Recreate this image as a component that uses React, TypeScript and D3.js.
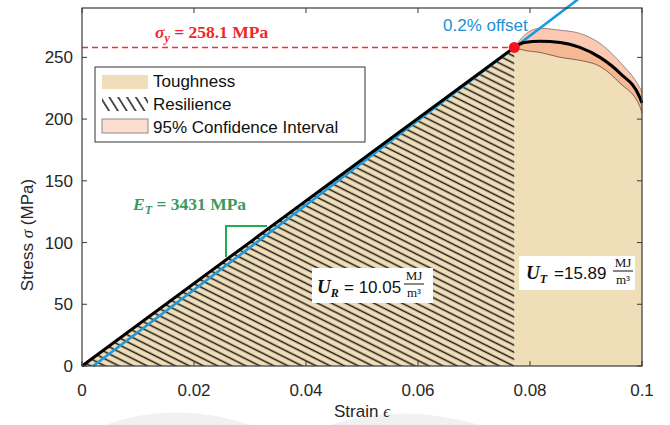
import React from 'react';
import * as d3 from 'd3';

// yield point and modulus
const yieldStrain = 0.0772;
const yieldStress = 258.1;
const modulusT = 3431;
const offsetStrain = 0.002;

// post-yield mean curve and 95% band (strain, stress)
const postStrain = [0.0772, 0.079, 0.0818, 0.0854, 0.0889, 0.0925, 0.0961, 0.0996, 0.1];
const meanStress = [258.1, 262, 263, 262.1, 258.1, 250, 237, 217.6, 213];
const upperStress = [258.1, 268, 273.5, 272, 269.4, 261.3, 246, 225.5, 222];
const lowerStress = [258.1, 255.7, 254, 250, 247.6, 242.7, 229, 210.4, 204.7];

const xTicks = [0, 0.02, 0.04, 0.06, 0.08, 0.1];
const yTicks = [0, 50, 100, 150, 200, 250];

const W = 670;
const H = 425;
const sans = 'Liberation Sans, Arial, Helvetica, sans-serif';
const serif = 'Liberation Serif, Times New Roman, serif';

const App = () => {
  const x = d3.scaleLinear().domain([0, 0.1]).range([82, 642]);
  const y = d3.scaleLinear().domain([0, 290]).range([366, 8]);

  const mean = postStrain.map((s, i) => [s, meanStress[i]] as [number, number]);

  const line = d3.line<[number, number]>().x(d => x(d[0])).y(d => y(d[1])).curve(d3.curveMonotoneX);
  const lineStraight = d3.line<[number, number]>().x(d => x(d[0])).y(d => y(d[1]));

  // toughness = elastic triangle + area under the post-yield curve
  const postArea = d3.area<[number, number]>()
    .x(d => x(d[0])).y0(y(0)).y1(d => y(d[1])).curve(d3.curveMonotoneX)(mean);

  const band = d3.area<number>()
    .x(i => x(postStrain[i])).y0(i => y(lowerStress[i])).y1(i => y(upperStress[i]))
    .curve(d3.curveMonotoneX)(postStrain.map((_, i) => i));

  const upperLine = line(postStrain.map((s, i) => [s, upperStress[i]]));
  const lowerLine = line(postStrain.map((s, i) => [s, lowerStress[i]]));

  const triangle = lineStraight([[0, 0], [yieldStrain, yieldStress], [yieldStrain, 0], [0, 0]]);

  const blueTop = 298;
  const blue = lineStraight([[offsetStrain, 0], [offsetStrain + blueTop / modulusT, blueTop]]);

  const x0 = x(0), x1 = x(0.1), yb = y(0), yt = y(290);

  return (
    <svg width={W} height={H} style={{ position: 'absolute', left: 0, top: 0, background: '#fff' }}>
      <defs>
        <pattern id="hatch" patternUnits="userSpaceOnUse" width="10" height="6.3" patternTransform="rotate(26.57)">
          <line x1="0" y1="3.15" x2="10" y2="3.15" stroke="#1a1a1a" strokeWidth="1.5" />
        </pattern>
        <pattern id="hatchLeg" patternUnits="userSpaceOnUse" width="10" height="7.5" patternTransform="rotate(58)">
          <line x1="0" y1="3.75" x2="10" y2="3.75" stroke="#1a1a1a" strokeWidth="1.5" />
        </pattern>
      </defs>

      {/* faint watermark shapes */}
      <path d="M105,425 Q175,400 250,425 Z" fill="#f1f1f1" />
      <path d="M330,425 Q400,402 480,425 Z" fill="#f1f1f1" />

      {/* toughness fill */}
      <path d={triangle ?? ''} fill="#F0DEB9" />
      <path d={postArea ?? ''} fill="#F0DEB9" />
      {/* resilience hatch */}
      <path d={triangle ?? ''} fill="url(#hatch)" />

      {/* confidence band */}
      <path d={band ?? ''} fill="#F79A72" fillOpacity={0.55} />
      <path d={upperLine ?? ''} fill="none" stroke="#8a6f66" strokeWidth={0.8} />
      <path d={lowerLine ?? ''} fill="none" stroke="#6b4a3a" strokeWidth={0.8} />

      {/* 0.2% offset line */}
      <path d={blue ?? ''} stroke="#1C9BE0" strokeWidth={2.6} fill="none" />

      {/* stress-strain curve */}
      <path d={lineStraight([[0, 0], [yieldStrain, yieldStress]]) ?? ''} stroke="#000" strokeWidth={3} fill="none" />
      <path d={line(mean) ?? ''} stroke="#000" strokeWidth={3} fill="none" />

      {/* yield line and point */}
      <line x1={x0} x2={x(yieldStrain)} y1={y(yieldStress)} y2={y(yieldStress)}
        stroke="#FF2A2A" strokeWidth={1.5} strokeDasharray="6,4" />
      <circle cx={x(yieldStrain)} cy={y(yieldStress)} r={5.5} fill="#F5141E" />

      {/* axes box */}
      <rect x={x0} y={yt} width={x1 - x0} height={yb - yt} fill="none" stroke="#3a3a3a" strokeWidth={1.2} />
      {xTicks.map(t => (
        <g key={'x' + t}>
          <line x1={x(t)} x2={x(t)} y1={yb} y2={yb - 5} stroke="#3a3a3a" />
          <line x1={x(t)} x2={x(t)} y1={yt} y2={yt + 5} stroke="#3a3a3a" />
          <text x={x(t)} y={396} textAnchor="middle" fontFamily={sans} fontSize={17} fill="#262626">{t}</text>
        </g>
      ))}
      {yTicks.map(t => (
        <g key={'y' + t}>
          <line x1={x0} x2={x0 + 5} y1={y(t)} y2={y(t)} stroke="#3a3a3a" />
          <line x1={x1} x2={x1 - 5} y1={y(t)} y2={y(t)} stroke="#3a3a3a" />
          <text x={73} y={y(t)} dy="0.36em" textAnchor="end" fontFamily={sans} fontSize={17} fill="#262626">{t}</text>
        </g>
      ))}
      <text x={362} y={417} textAnchor="middle" fontFamily={sans} fontSize={17} fill="#262626">
        Strain <tspan fontFamily={serif} fontStyle="italic">ϵ</tspan>
      </text>
      <text transform="translate(33,235) rotate(-90)" textAnchor="middle" fontFamily={sans} fontSize={17} fill="#262626">
        Stress <tspan fontFamily={serif} fontStyle="italic">σ</tspan> (MPa)
      </text>

      {/* annotations */}
      <text x={155} y={38} fontFamily={serif} fontSize={17.5} fontWeight="bold" fill="#F0262A">
        <tspan fontStyle="italic">σ</tspan><tspan fontStyle="italic" fontSize={12} dy={4}>y</tspan>
        <tspan dy={-4}> = 258.1 MPa</tspan>
      </text>
      <text x={443} y={31} fontFamily={sans} fontSize={17} fill="#1C8FD6">0.2% offset</text>

      <text x={133} y={210} fontFamily={serif} fontSize={17.5} fontWeight="bold" fill="#3A9A5C">
        <tspan fontStyle="italic">E</tspan><tspan fontStyle="italic" fontSize={12} dy={4}>T</tspan>
        <tspan dy={-4}> = 3431 MPa</tspan>
      </text>
      <path d="M226,257 V226 H267" fill="none" stroke="#22B04A" strokeWidth={2} />

      {/* U_R box */}
      <rect x={312} y={268} width={121} height={35} fill="#fff" />
      <text x={317} y={293} fontFamily={serif} fontSize={19} fontWeight="bold" fontStyle="italic" fill="#111">
        U<tspan fontSize={12} dy={4}>R</tspan>
      </text>
      <text x={344} y={293} fontFamily={sans} fontSize={17} fill="#111">= 10.05</text>
      <text x={414} y={280} textAnchor="middle" fontFamily={serif} fontSize={13} fill="#111">MJ</text>
      <line x1={404} x2={424} y1={284} y2={284} stroke="#111" strokeWidth={1} />
      <text x={414} y={297} textAnchor="middle" fontFamily={serif} fontSize={13} fill="#111">m³</text>

      {/* U_T box */}
      <rect x={519} y={256} width={116} height={34} fill="#fff" />
      <text x={526} y={279} fontFamily={serif} fontSize={19} fontWeight="bold" fontStyle="italic" fill="#111">
        U<tspan fontSize={12} dy={4}>T</tspan>
      </text>
      <text x={554} y={279} fontFamily={sans} fontSize={17} fill="#111">=15.89</text>
      <text x={623} y={267} textAnchor="middle" fontFamily={serif} fontSize={13} fill="#111">MJ</text>
      <line x1={613} x2={633} y1={271} y2={271} stroke="#111" strokeWidth={1} />
      <text x={623} y={284} textAnchor="middle" fontFamily={serif} fontSize={13} fill="#111">m³</text>

      {/* legend */}
      <rect x={95} y={67} width={270} height={75} fill="#fff" stroke="#333" strokeWidth={1} />
      <rect x={102} y={75} width={46} height={14} fill="#F0DEB9" />
      <text x={153} y={87} fontFamily={sans} fontSize={17} fill="#111">Toughness</text>
      <rect x={102} y={97} width={46} height={14} fill="url(#hatchLeg)" />
      <text x={153} y={110} fontFamily={sans} fontSize={17} fill="#111">Resilience</text>
      <rect x={102} y={119} width={46} height={14} fill="#FDDDD0" stroke="#8a8a8a" strokeWidth={1} />
      <text x={153} y={133} fontFamily={sans} fontSize={17} fill="#111">95% Confidence Interval</text>
    </svg>
  );
};

export default App;
